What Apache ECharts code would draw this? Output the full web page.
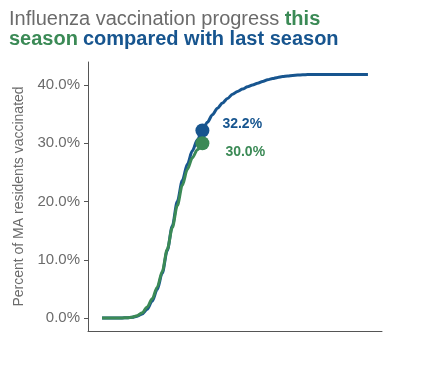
<!DOCTYPE html>
<html><head><meta charset="utf-8">
<script src="https://cdn.jsdelivr.net/npm/echarts@6/dist/echarts.min.js"></script>
<style>html,body{margin:0;padding:0;background:#fff}#c{width:422px;height:374px}</style>
</head><body><div id="c"></div>
<script>
var weeks = [];
for (var w = 0; w < 54; w++) weeks.push(w);
var lastSeason = [0,0,0,0,0.02,0.05,0.12,0.3,0.7,1.5,2.9,4.9,7.7,11.6,15.8,20.0,23.6,26.4,28.7,30.6,32.2,33.6,34.9,36.0,36.9,37.7,38.4,38.9,39.3,39.7,40.0,40.3,40.6,40.9,41.1,41.3,41.45,41.55,41.65,41.7,41.75,41.8,41.8,41.8,41.8,41.8,41.8,41.8,41.8,41.8,41.8,41.8,41.8,41.8];
var thisSeason = [0,0,0,0,0.02,0.05,0.15,0.4,0.9,1.9,3.3,5.3,8.0,11.8,15.5,19.3,22.8,25.5,27.5,28.9,30.0];
var yTicks = [0,10,20,30,40];
var blue = '#17558f', green = '#3b8a56', gray = '#6b6b6b';
function pairs(arr){ return arr.map(function(v,i){ return [weeks[i], v]; }); }
var lastIdxB = 20, lastIdxG = thisSeason.length - 1;
var chart = echarts.init(document.getElementById('c'));
chart.setOption({
  animation: false,
  textStyle: {fontFamily: 'Liberation Sans, Arial, sans-serif'},
  title: {
    left: 4, top: 4,
    text: '{g|Influenza vaccination progress }{gr|this}\n{gr|season} {b|compared with last season}',
    textStyle: {
      lineHeight: 20,
      rich: {
        g: {color: gray, fontSize: 20, fontWeight: 'normal', fontFamily: 'Liberation Sans', lineHeight: 20},
        gr: {color: green, fontSize: 20, fontWeight: 'bold', fontFamily: 'Liberation Sans', lineHeight: 20},
        b: {color: blue, fontSize: 20, fontWeight: 'bold', fontFamily: 'Liberation Sans', lineHeight: 20}
      }
    }
  },
  grid: {left: 88, top: 62, right: 40, bottom: 43, containLabel: false},
  xAxis: {
    type: 'value', min: -2.8, max: 55.8,
    axisLine: {show: true, onZero: false, lineStyle: {color: '#555', width: 1}},
    axisTick: {show: false}, axisLabel: {show: false}, splitLine: {show: false}
  },
  yAxis: {
    type: 'value', min: -2.23, max: 43.95,
    name: 'Percent of MA residents vaccinated', nameLocation: 'middle', nameGap: 62,
    nameTextStyle: {color: gray, fontSize: 14, fontFamily: 'Liberation Sans'},
    axisLine: {show: true, onZero: false, lineStyle: {color: '#555', width: 1}},
    axisTick: {show: true, length: 4, lineStyle: {color: '#555'}, customValues: yTicks},
    axisLabel: {color: gray, fontSize: 15, margin: 8, fontFamily: 'Liberation Sans',
      customValues: yTicks,
      formatter: function(v){ return v.toFixed(1) + '%'; }},
    splitLine: {show: false}
  },
  series: [
    {type: 'line', data: pairs(lastSeason), showSymbol: false, smooth: 0.3, smoothMonotone: 'x',
     lineStyle: {color: blue, width: 3}, z: 2},
    {type: 'line', data: pairs(thisSeason), showSymbol: false, smooth: 0.3, smoothMonotone: 'x',
     lineStyle: {color: green, width: 3}, z: 3},
    {type: 'scatter', data: [[weeks[lastIdxB], lastSeason[lastIdxB]]], symbolSize: 14,
     itemStyle: {color: blue, opacity: 1}, z: 4,
     label: {show: true, position: 'right', distance: 13, offset: [0, -6], color: blue, fontSize: 14, fontWeight: 'bold',
       formatter: function(p){ return p.value[1].toFixed(1) + '%'; }}},
    {type: 'scatter', data: [[weeks[lastIdxG], thisSeason[lastIdxG]]], symbolSize: 14,
     itemStyle: {color: green, opacity: 1}, z: 5,
     label: {show: true, position: 'right', distance: 16, offset: [0, 9], color: green, fontSize: 14, fontWeight: 'bold',
       formatter: function(p){ return p.value[1].toFixed(1) + '%'; }}}
  ]
});
</script></body></html>
